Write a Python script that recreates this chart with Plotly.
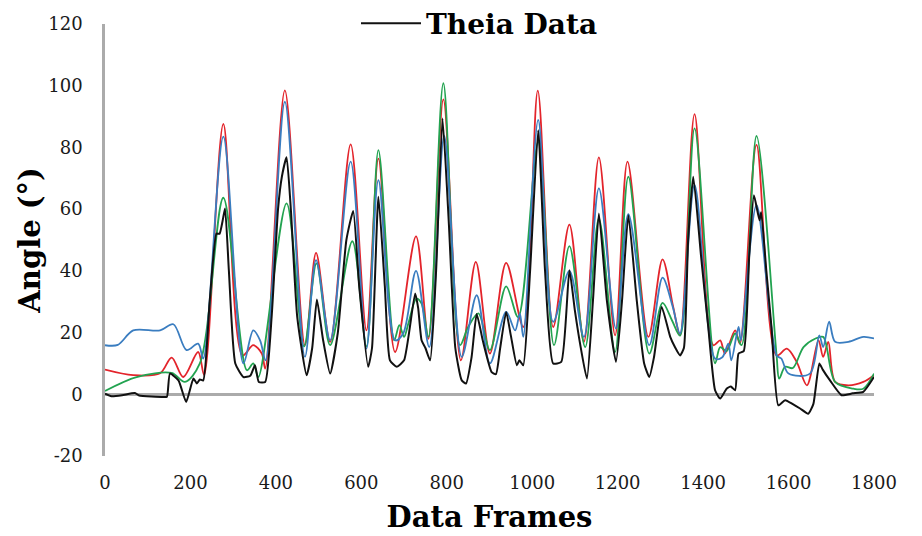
import plotly.graph_objects as go

# ---- data ----
red_x = [0, 66, 129, 156, 183, 218, 232, 277, 322, 347, 367, 375, 421, 468, 494, 527, 575, 612, 640, 679,
         728, 757, 792, 833, 868, 901, 939, 979, 1013, 1049, 1087, 1121, 1156, 1194, 1223, 1272, 1305, 1330,
         1346, 1380, 1424, 1440, 1451, 1475, 1486, 1525, 1572, 1596, 1619, 1643, 1670, 1681, 1693, 1709,
         1740, 1775, 1800]
red_y = [8.0, 6.2, 6.8, 11.9, 5.6, 13.7, 6.2, 87.6, 12.6, 15.9, 13.2, 8.3, 98.5, 15.9, 45.8, 17.0, 81.0, 20.7,
         76.4, 13.7, 51.2, 18.0, 95.6, 11.0, 42.9, 13.2, 42.6, 21.8, 98.4, 21.8, 55.0, 17.0, 76.8, 19.1, 75.4,
         18.6, 43.7, 28.3, 19.1, 90.8, 15.9, 17.5, 13.2, 20.7, 16.4, 80.8, 12.6, 14.8, 10.5, 2.9, 17.5, 12.1,
         17.0, 4.0, 2.9, 4.0, 6.2]

blue_x = [0, 30, 66, 129, 160, 191, 218, 230, 277, 324, 347, 363, 376, 421, 468, 494, 527, 575, 612, 640,
          679, 698, 728, 759, 794, 835, 870, 901, 939, 960, 971, 979, 1014, 1049, 1087, 1121, 1156, 1196,
          1225, 1274, 1305, 1329, 1346, 1380, 1428, 1445, 1459, 1466, 1483, 1488, 1525, 1572, 1583, 1600,
          1650, 1672, 1681, 1695, 1709, 1740, 1775, 1800]
blue_y = [15.9, 16.0, 20.7, 20.7, 22.7, 14.3, 16.4, 11.6, 83.5, 10.0, 20.7, 17.5, 11.0, 94.8, 12.1, 43.5,
          17.5, 75.4, 14.8, 69.4, 17.5, 19.7, 40.0, 15.3, 83.7, 12.1, 32.1, 10.0, 26.7, 20.7, 26.2, 18.6,
          88.9, 23.5, 40.0, 18.6, 66.7, 21.3, 58.4, 15.9, 37.8, 28.3, 19.7, 67.8, 11.6, 12.0, 16.4, 11.0,
          21.8, 17.5, 61.3, 12.6, 11.6, 6.7, 6.7, 19.1, 15.3, 23.5, 17.0, 17.0, 18.6, 18.1]

green_x = [0, 74, 156, 187, 222, 277, 332, 347, 359, 425, 466, 495, 527, 579, 612, 640, 677, 689, 700, 710,
           729, 741, 757, 792, 831, 850, 874, 901, 939, 967, 1014, 1051, 1087, 1124, 1156, 1194, 1225, 1274,
           1305, 1327, 1346, 1380, 1428, 1440, 1455, 1475, 1490, 1525, 1572, 1578, 1592, 1610, 1635, 1662,
           1681, 1709, 1752, 1775, 1800]
green_y = [1.1, 5.6, 6.9, 4.0, 10.0, 63.7, 7.8, 10.0, 5.6, 61.9, 15.5, 42.4, 15.9, 49.6, 15.5, 79.1, 17.5,
           22.4, 18.6, 22.9, 31.0, 29.4, 18.6, 100.8, 15.9, 21.8, 26.2, 14.3, 35.0, 25.0, 81.8, 15.9, 48.0,
           15.3, 57.0, 13.7, 70.5, 13.2, 29.6, 24.0, 19.0, 86.2, 10.0, 15.3, 14.0, 19.7, 15.9, 83.7, 12.6,
           5.1, 8.9, 8.5, 15.3, 18.0, 18.6, 4.0, 1.8, 1.8, 6.7]

theia_x = [0, 15, 40, 70, 80, 137, 145, 152, 172, 190, 207, 215, 222, 230, 245, 261, 268, 275, 281, 290,
           305, 324, 340, 351, 360, 375, 390, 405, 414, 425, 435, 450, 472, 485, 496, 510, 527, 545, 565,
           581, 595, 616, 625, 640, 655, 667, 683, 700, 726, 733, 741, 750, 761, 775, 790, 805, 820, 835,
           845, 858, 870, 885, 905, 915, 925, 939, 950, 964, 970, 979, 995, 1014, 1030, 1049, 1068, 1087,
           1100, 1112, 1128, 1142, 1156, 1175, 1196, 1210, 1225, 1245, 1262, 1274, 1285, 1303, 1323, 1334,
           1346, 1355, 1365, 1377, 1395, 1412, 1428, 1440, 1455, 1465, 1475, 1483, 1495, 1508, 1519, 1532,
           1536, 1548, 1560, 1576, 1592, 1610, 1627, 1646, 1658, 1672, 1680, 1697, 1724, 1750, 1775, 1800]
theia_y = [0.2, -0.6, -0.3, 0.4, -0.4, -0.9, -0.8, 6.7, 4.5, -2.5, 5.1, 3.5, 4.8, 4.5, 30.0, 52.1, 52.0,
           56.0, 60.2, 40.0, 10.0, 5.6, 6.0, 9.4, 4.0, 4.0, 25.0, 60.0, 70.5, 76.8, 60.0, 25.0, 6.2, 15.0,
           30.7, 18.0, 6.7, 20.0, 50.0, 59.4, 35.0, 8.9, 15.0, 64.0, 35.0, 11.0, 8.9, 11.0, 32.7, 28.0, 17.5,
           15.0, 11.0, 40.0, 89.4, 55.0, 15.0, 4.5, 3.5, 12.0, 26.0, 17.0, 7.2, 6.5, 15.0, 26.7, 19.0, 9.4,
           11.0, 9.4, 40.0, 85.6, 40.0, 10.0, 10.5, 40.2, 27.0, 16.4, 5.1, 30.0, 58.6, 30.0, 10.5, 30.0, 58.0,
           30.0, 10.0, 5.6, 12.0, 28.3, 18.6, 15.3, 12.6, 15.0, 50.0, 70.5, 45.0, 21.8, 1.3, -1.4, 1.8, 2.5,
           1.3, 13.2, 14.0, 45.0, 64.5, 56.4, 59.0, 40.0, 21.8, -3.6, -1.9, -3.2, -4.6, -6.3, -3.2, 10.0, 8.0,
           4.5, -0.3, 0.3, 0.8, 5.6]

x_ticks = [0, 200, 400, 600, 800, 1000, 1200, 1400, 1600, 1800]
y_ticks = [-20, 0, 20, 40, 60, 80, 100, 120]
y_tick_labels = ["-20", "0", "20", "40", "60", "80", "100", "120"]

SERIF = "DejaVu Serif"

fig = go.Figure()
fig.add_trace(go.Scatter(x=red_x, y=red_y, mode="lines", showlegend=False, name="Series 1",
                         line=dict(color="#e3242b", width=1.8, shape="spline", smoothing=0.9)))
fig.add_trace(go.Scatter(x=green_x, y=green_y, mode="lines", showlegend=False, name="Series 2",
                         line=dict(color="#22a350", width=1.8, shape="spline", smoothing=0.9)))
fig.add_trace(go.Scatter(x=blue_x, y=blue_y, mode="lines", showlegend=False, name="Series 3",
                         line=dict(color="#3a7dc0", width=1.8, shape="spline", smoothing=0.9)))
fig.add_trace(go.Scatter(x=theia_x, y=theia_y, mode="lines", name="Theia Data",
                         line=dict(color="#111111", width=2, shape="spline", smoothing=0.5)))

fig.update_layout(
    width=922, height=536,
    margin=dict(l=97, r=56, t=16, b=88, autoexpand=False),
    paper_bgcolor="white", plot_bgcolor="white",
    font=dict(family=SERIF, color="#1a1a1a"),
    legend=dict(orientation="h", x=0.487, xanchor="center", yref="container", y=0.971, yanchor="middle",
                font=dict(family=SERIF, size=28, color="#000000", weight="bold"),
                bgcolor="rgba(0,0,0,0)", itemwidth=60),
    xaxis=dict(range=[0, 1800], tickvals=x_ticks, showgrid=False, zeroline=False, showline=False,
               automargin=False,
               tickfont=dict(size=18, color="#1a1a1a"), ticklabelstandoff=14,
               title=dict(text="Data Frames", font=dict(family=SERIF, size=29, color="#000000", weight="bold"),
                          standoff=14)),
    yaxis=dict(range=[-20, 120], tickvals=y_ticks, ticktext=y_tick_labels, showgrid=False,
               automargin=False,
               zeroline=True, zerolinecolor="#ababab", zerolinewidth=2.5,
               showline=True, linecolor="#ababab", linewidth=2.5,
               tickfont=dict(size=18, color="#1a1a1a"), ticklabelstandoff=16,
               title=dict(text="Angle (°)", font=dict(family=SERIF, size=29, color="#000000", weight="bold"),
                          standoff=0)),
)

fig.write_html("out.html")
